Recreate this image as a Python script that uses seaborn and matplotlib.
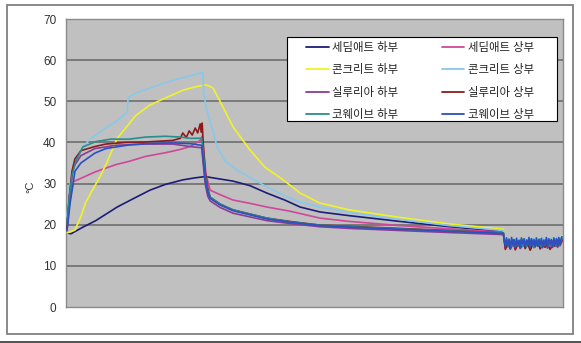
import numpy as np
import pandas as pd
import matplotlib
matplotlib.use("Agg")
import matplotlib.pyplot as plt
from matplotlib.lines import Line2D
from matplotlib.patches import Rectangle
import seaborn as sns

# ---------------- data ----------------
series_names = ["세딤애트 하부", "세딤애트 상부", "콘크리트 하부", "콘크리트 상부",
                "실루리아 하부", "실루리아 상부", "코웨이브 하부", "코웨이브 상부"]
series_colors = ["#1c1c7a", "#d0479a", "#f2f22a", "#86c9ea",
                 "#8a3c96", "#8c1a1a", "#2a8c8c", "#2d4fc0"]

y_ticks = [0, 10, 20, 30, 40, 50, 60, 70]
y_label = "°C"

# time points of the noisy tail band (sparse and dense sampling)
band_t = [88.4, 88.9, 89.4, 89.9, 90.4, 90.9, 91.4, 91.9, 92.4, 92.9, 93.4, 93.9,
          94.4, 94.9, 95.4, 95.9, 96.4, 96.9, 97.4, 97.9, 98.4, 98.9, 99.4, 99.8]
band_t_dense = [88.4, 88.65, 88.9, 89.15, 89.4, 89.65, 89.9, 90.15, 90.4, 90.65, 90.9, 91.15,
                91.4, 91.65, 91.9, 92.15, 92.4, 92.65, 92.9, 93.15, 93.4, 93.65, 93.9, 94.15,
                94.4, 94.65, 94.9, 95.15, 95.4, 95.65, 95.9, 96.15, 96.4, 96.65, 96.9, 97.15,
                97.4, 97.65, 97.9, 98.15, 98.4, 98.65, 98.9, 99.15, 99.4, 99.65, 99.8]

navy_t = [0.2, 1, 3.4, 6, 10.3, 13, 16.9, 20, 23.5, 26, 28, 29, 33.6, 37, 40.4, 44, 47.1, 51.1, 57, 67.2, 77.3, 88]
navy_v = [18.0, 17.8, 19.4, 21, 24.3, 26, 28.4, 29.8, 30.9, 31.4, 31.7, 31.5, 30.6, 29.5, 27.7, 26, 24.3, 23.1, 22.2, 20.8, 19.5, 18.3]
navy_band = [15.2, 16.1, 14.8, 15.9, 15.0, 16.3, 14.6, 15.7, 15.3, 16.0, 14.9, 15.8,
             15.1, 16.2, 15.0, 15.6, 14.7, 16.0, 15.4, 15.9, 15.2, 16.3, 15.5, 16.4]

mag_t = [0.2, 0.8, 1.5, 2.5, 5.8, 10, 12.7, 16, 20, 23, 25, 27, 27.4, 27.7, 28.2, 29, 31, 33.6, 37, 40.4, 45, 51.1, 57, 67, 77, 88]
mag_v = [19, 26, 30.5, 31, 32.8, 34.6, 35.4, 36.6, 37.5, 38.3, 39.0, 40.5, 41.5, 38, 32, 28.4, 27.3, 26, 25.2, 24.3, 23.3, 21.6, 20.8, 19.8, 19, 18.2]
mag_band = [14.6, 15.8, 15.0, 16.2, 14.4, 15.5, 15.9, 14.8, 16.1, 15.2, 14.5, 15.7,
            16.0, 14.9, 15.6, 14.6, 15.9, 15.1, 14.7, 16.2, 15.3, 15.8, 16.0, 16.6]

yel_t = [0.2, 1.8, 3, 4, 6.8, 8, 10.3, 12, 14, 16.9, 20, 23.5, 26, 28, 29, 29.6, 31, 33.6, 37, 40, 43.7, 47.1, 51, 57, 67, 77, 88]
yel_v = [18, 18.7, 22, 25.5, 31.6, 34.5, 41, 43.5, 46.5, 49.1, 50.8, 52.7, 53.5, 54, 53.6, 53.2, 50, 43.8, 38.2, 34, 30.9, 27.7, 25.3, 23.6, 21.8, 20.2, 18.9]
yel_band = [15.8, 16.4, 15.9, 16.6, 16.0, 16.5, 16.1, 16.7, 15.9, 16.3, 16.6, 16.0,
            16.5, 16.2, 16.8, 16.1, 16.4, 16.7, 16.2, 16.6, 16.3, 16.8, 16.9, 17.4]

cya_t = [0.2, 0.8, 2, 3.4, 5, 8, 10, 12.3, 12.5, 14, 16.9, 20, 23, 26, 27.2, 27.5, 27.7, 28.3, 29.5, 30.4, 32, 34.4, 37, 40.4, 44, 47.1, 51, 57, 67, 77, 88]
cya_v = [22, 30, 36, 39, 41, 43.5, 45, 47.4, 50.8, 52, 53.2, 54.5, 55.6, 56.5, 57, 57, 52, 48, 43, 38.9, 35.5, 33.3, 31.5, 29.2, 27, 25.5, 24.3, 23, 21.3, 19.8, 18.6]
cya_band = [16.0, 16.6, 15.7, 16.5, 16.2, 16.8, 15.9, 16.4, 16.7, 16.0, 16.6, 16.3,
            16.9, 16.1, 16.5, 16.8, 16.2, 16.7, 16.4, 16.9, 16.5, 17.0, 16.8, 17.2]

pur_t = [0.2, 0.7, 1.5, 3, 5.8, 10, 16, 21.5, 25, 27.3, 27.6, 28, 28.5, 29, 31, 33.6, 37, 40.4, 45, 51.1, 57, 67, 77, 88]
pur_v = [19, 27, 34, 36.8, 38.5, 39.3, 39.6, 39.6, 39.0, 38.7, 35, 30, 27, 25.8, 24.2, 22.8, 21.9, 21, 20.3, 19.5, 19.1, 18.6, 18.1, 17.6]
pur_band = [14.3, 15.4, 14.0, 15.2, 14.6, 15.8, 14.2, 15.1, 14.8, 15.6, 14.1, 15.3,
            14.7, 15.7, 14.4, 15.0, 15.5, 14.3, 15.2, 14.9, 15.6, 14.5, 15.4, 16.0]

red_t = [0.2, 0.6, 1.2, 1.8, 3, 5.8, 8, 12, 16, 21.5, 23, 23.5, 24.2, 24.8, 25.4, 26, 26.5, 27, 27.2, 27.4, 27.6, 28, 28.5, 29, 31, 33.6, 37, 40.4, 45, 51.1, 57, 67, 77, 88]
red_v = [19, 26, 33, 36, 38, 39, 39.6, 40, 40.1, 40.5, 41, 42.3, 41.2, 42.8, 41.8, 43.5, 42.3, 44.5, 42.5, 44.7, 40, 33, 29, 26.7, 25, 23.6, 22.6, 21.6, 20.8, 19.9, 19.6, 19.1, 18.6, 18]
red_band = [14.0, 15.5, 14.4, 15.9, 13.9, 15.2, 14.6, 16.0, 14.2, 15.4, 13.8, 15.1,
            14.7, 15.8, 14.1, 15.3, 14.5, 15.7, 14.0, 15.0, 14.8, 15.6, 14.9, 16.1]

tea_t = [0.2, 0.6, 1.2, 2, 3.4, 6, 9, 12.7, 16, 20, 23, 25, 27.3, 27.6, 28, 28.5, 29, 31, 33.6, 37, 40.4, 45, 51.1, 57, 67, 77, 88]
tea_v = [20, 26, 32, 35.5, 38.9, 40.2, 40.8, 40.8, 41.3, 41.5, 41.3, 41.0, 41, 38, 32, 28.5, 26.7, 25, 23.6, 22.6, 21.6, 20.7, 19.9, 19.5, 19, 18.5, 18]
tea_band = [15.3, 16.2, 14.6, 16.0, 15.5, 14.8, 16.4, 15.1, 14.5, 16.1, 15.7, 14.9,
            16.3, 15.0, 14.7, 16.0, 15.4, 14.6, 16.2, 15.2, 14.9, 16.5, 15.0, 14.4,
            16.1, 15.6, 14.8, 16.3, 15.1, 14.6, 16.0, 15.5, 14.9, 16.4, 15.2, 14.7,
            16.1, 15.4, 14.5, 16.2, 15.3, 14.8, 16.4, 15.6, 15.0, 16.3, 16.6]

blu_t = [0.2, 0.8, 1.8, 3, 5.8, 8, 12.7, 16, 21.5, 25, 27.3, 27.6, 28, 28.5, 29, 31, 33.6, 37, 40.4, 45, 51.1, 57, 67, 77, 88]
blu_v = [18.5, 25, 33, 35, 37.4, 38.5, 39.4, 39.7, 39.9, 39.7, 39.3, 36, 31, 28, 26.4, 24.8, 23.4, 22.4, 21.4, 20.6, 19.8, 19.4, 18.9, 18.4, 17.9]
blu_band = [14.6, 16.8, 14.9, 16.5, 14.3, 16.9, 15.2, 16.4, 14.5, 16.7, 15.0, 16.2,
            14.4, 16.8, 15.3, 16.6, 14.7, 16.3, 14.9, 16.9, 14.5, 16.6, 15.1, 16.4,
            14.6, 16.8, 14.8, 16.5, 15.2, 16.7, 14.4, 16.3, 15.0, 16.9, 14.7, 16.6,
            15.3, 16.4, 14.5, 16.8, 15.1, 16.6, 14.8, 16.9, 15.2, 16.7, 17.1]

series_data = [
    (navy_t, navy_v, band_t, navy_band),
    (mag_t, mag_v, band_t, mag_band),
    (yel_t, yel_v, band_t, yel_band),
    (cya_t, cya_v, band_t, cya_band),
    (pur_t, pur_v, band_t, pur_band),
    (red_t, red_v, band_t, red_band),
    (tea_t, tea_v, band_t_dense, tea_band),
    (blu_t, blu_v, band_t_dense, blu_band),
]

rows = []
for name, (ts, vs, bt, band) in zip(series_names, series_data):
    for t, v in zip(list(ts) + list(bt), list(vs) + list(band)):
        rows.append({"t": t, "v": v, "series": name})
df = pd.DataFrame(rows)

# ---------------- figure ----------------
sns.set_theme(style="white")
plt.rcParams["font.family"] = ["Liberation Sans", "Noto Sans CJK KR", "DejaVu Sans"]

W, H = 581, 343
fig = plt.figure(figsize=(W / 100, H / 100), dpi=100)
fig.patch.set_facecolor("white")

L, R, T, B = 66, 563, 19, 307
ax = fig.add_axes([L / W, 1 - B / H, (R - L) / W, (B - T) / H])
ax.set_facecolor("#c0c0c0")

palette = dict(zip(series_names, series_colors))
sns.lineplot(data=df, x="t", y="v", hue="series", hue_order=series_names,
             palette=palette, sort=False, estimator=None, lw=1.2,
             legend=False, ax=ax, zorder=3)

ax.set_xlim(0, 100)
ax.set_ylim(0, 70)
ax.set_yticks(y_ticks)
ax.set_yticklabels([str(v) for v in y_ticks])
ax.set_xticks([])
ax.set_xlabel("")
ax.set_ylabel(y_label, fontsize=8, color="#333333", rotation=90)
ax.yaxis.set_label_coords((35 - L) / (R - L), (B - 187) / (B - T))
ax.tick_params(axis="y", length=0, pad=7, labelsize=8.5, labelcolor="#333333")
ax.grid(False)
for yv in y_ticks[1:-1]:
    ax.axhline(yv, color="#6e6e6e", lw=1.2, zorder=1)
for s in ax.spines.values():
    s.set_color("#8a8a8a")
    s.set_linewidth(1.0)

def px_to_ax(xp, yp):
    return (xp - L) / (R - L), (B - yp) / (B - T)

# legend frame drawn separately for exact size
fx0, fy1 = px_to_ax(287, 37)
fx1, fy0 = px_to_ax(557, 121)
ax.add_patch(Rectangle((fx0, fy0), fx1 - fx0, fy1 - fy0, transform=ax.transAxes,
                       facecolor="white", edgecolor="black", lw=0.8, zorder=4))

# legend (row-major order in the reference -> column-major for matplotlib)
order = [0, 2, 4, 6, 1, 3, 5, 7]
handles = [Line2D([0], [0], color=series_colors[i], lw=1.3) for i in order]
labels = [series_names[i] for i in order]
lx, ly = px_to_ax(306, 42)
leg = ax.legend(handles, labels, ncol=2, loc="upper left",
                bbox_to_anchor=(lx, ly), frameon=False,
                fontsize=8.2, handlelength=2.0, handletextpad=0.3,
                labelspacing=1.0, borderpad=0, columnspacing=3.8,
                borderaxespad=0)
for txt in leg.get_texts():
    txt.set_color("#222222")
leg.set_zorder(5)

# outer frame
fig.patches.append(Rectangle((7 / W, 1 - 334 / H), (573 - 7) / W, (334 - 5) / H,
                             transform=fig.transFigure, fill=False,
                             edgecolor="#808080", lw=1.3))
fig.add_artist(Line2D([0, 1], [0.6 / H, 0.6 / H], transform=fig.transFigure,
                      color="#333333", lw=1.2))

fig.savefig("out.png", dpi=100)
